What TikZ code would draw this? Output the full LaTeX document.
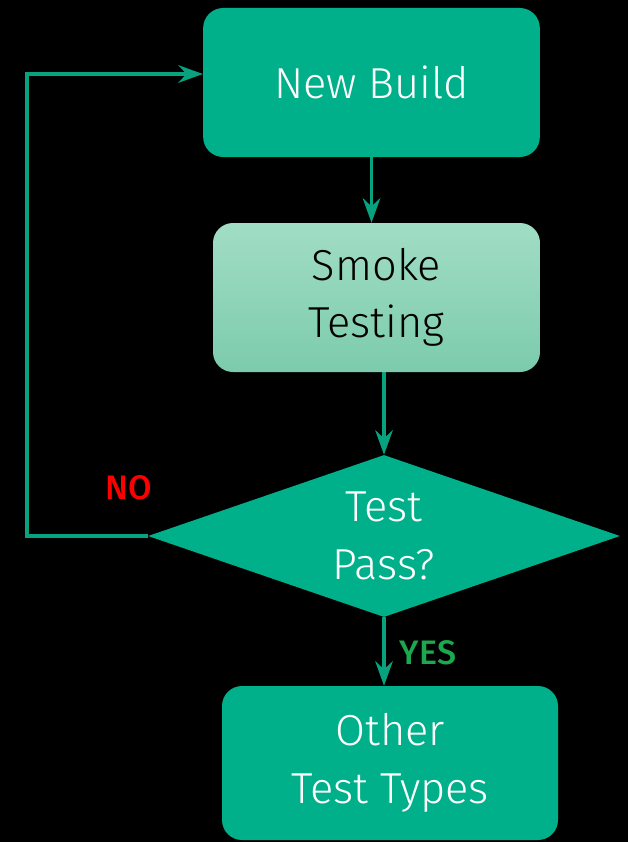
\documentclass[tikz,border=0pt]{standalone}
\usepackage{fontspec}
\setmainfont{Fira Sans}[UprightFont=* Light, BoldFont=* Medium]
\usetikzlibrary{shapes.geometric, arrows.meta}
\definecolor{flowgreen}{RGB}{0,176,138}
\definecolor{linegreen}{RGB}{8,162,127}
\definecolor{smoketop}{RGB}{161,221,197}
\definecolor{smokebot}{RGB}{124,203,173}
\definecolor{yesgreen}{RGB}{27,168,78}

\begin{document}
\begin{tikzpicture}[
  box/.style={rectangle, rounded corners=0.6cm, minimum width=10.1cm,
              minimum height=4.47cm, align=center,
              font=\fontsize{37}{49}\selectfont},
  decision/.style={diamond, aspect=3, inner sep=0pt, minimum width=14.16cm,
                   minimum height=4.86cm, align=center, fill=flowgreen,
                   text=white, font=\fontsize{37}{49}\selectfont},
  link/.style={draw=linegreen, line width=3pt},
  answer/.style={font=\fontsize{29}{30}\selectfont\bfseries},
  >={Stealth[length=21pt, width=15pt, inset=7pt]}
]
\fill[black] (0,0) rectangle (18.84,-25.26);

\node[box, fill=flowgreen, text=white] (build) at (11.145,-2.475) {New Build};
\node[box, minimum width=9.81cm, top color=smoketop, bottom color=smokebot,
      text=black] (smoke) at (11.295,-8.925) {Smoke\\Testing};
\draw[link, ->] (build.south) -- (build.south |- smoke.north);

\node[decision] (pass) at (11.52,-16.08) {Test\\Pass?};
\draw[link, ->] (smoke.south -| pass.north) -- (pass.north);

\node[box, minimum width=10.08cm, minimum height=4.62cm, fill=flowgreen,
      text=white] (other) at (11.7,-22.89) {Other\\Test Types};
\draw[link, ->] (pass.south) -- (pass.south |- other.north);
\node[answer, text=yesgreen] (yes) at (12.84,-19.59) {YES};

\coordinate (loop) at (0.81,-2.22);
\draw[link, ->] (pass.west) -| (loop) -- (loop -| build.west);
\node[answer, text=red] (no) at (3.87,-14.64) {NO};
\end{tikzpicture}
\end{document}
